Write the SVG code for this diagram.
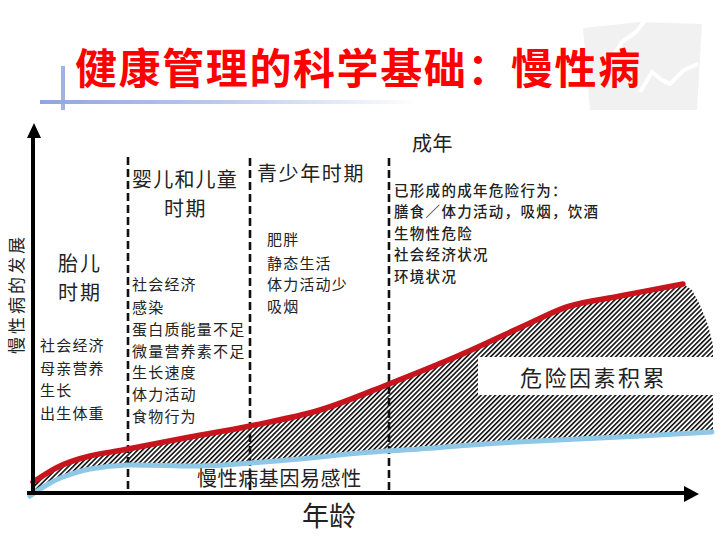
<svg xmlns="http://www.w3.org/2000/svg" width="720" height="540" viewBox="0 0 720 540">
  <defs>
    <pattern id="hatch" patternUnits="userSpaceOnUse" width="3.4" height="10" patternTransform="rotate(45)">
      <rect x="0" y="0" width="1.6" height="10" fill="#111"/>
    </pattern>
    <linearGradient id="deco" x1="40" y1="0" x2="420" y2="0" gradientUnits="userSpaceOnUse">
      <stop offset="0" stop-color="#8fa6dc"/>
      <stop offset="0.45" stop-color="#b9c8ec"/>
      <stop offset="1" stop-color="#ffffff"/>
    </linearGradient>
    <style>
      .t { font-family: "Noto Sans CJK SC", "Noto Sans", sans-serif; fill: #222; }
      .hd { font-size: 20px; }
      .ls { font-size: 15px; letter-spacing: 1.2px; }
      .al { font-size: 14.5px; letter-spacing: 1.3px; font-weight: 500; }
      .dash { stroke: #111; stroke-width: 2.6; stroke-dasharray: 8 4; fill: none; }
      .axis { stroke: #000; stroke-width: 4; fill: none; }
    </style>
  </defs>
  <rect width="720" height="540" fill="#ffffff"/>

  <g id="decoration">
    <polygon points="583,28 640,22 702,24 697,110 590,110" fill="#f1f1f1"/>
    <polyline points="650,14 636,32 622,42 612,58 606,70" fill="none" stroke="#ffffff" stroke-width="4"/>
    <polyline points="640,92 652,72 662,80 670,84 684,70 698,64" fill="none" stroke="#ffffff" stroke-width="4"/>
    <rect x="61" y="66" width="4" height="44" fill="#9fb3e3"/>
    <rect x="40" y="100" width="380" height="4" fill="url(#deco)"/>
  </g>

  <g id="title">
    <text x="75" y="84" font-family="'Noto Sans CJK SC', 'Noto Sans', sans-serif" font-size="42" font-weight="bold" letter-spacing="1.6" fill="#ff0000">健康管理的科学基础：慢性病</text>
  </g>

  <g id="hatched-area">
    <path fill="url(#hatch)" d="M33,482 C37.5,479.3 50.5,470.3 60,466 C69.5,461.7 78.7,458.8 90,456 C101.3,453.2 111.3,452.2 128,449 C144.7,445.8 169.7,440.8 190,437 C210.3,433.2 228.3,430.5 250,426 C271.7,421.5 296.8,417 320,410 C343.2,403 365.7,393.2 389,384 C412.3,374.8 436.5,365.2 460,355 C483.5,344.8 511.7,331.2 530,323 C548.3,314.8 555,310.5 570,306 C585,301.5 601.2,299.7 620,296 C638.8,292.3 672.5,286 683,284 L692,290 L700,305 L708,325 L713,345 L713,490 L33,490 Z"/>
    <path fill="#ffffff" d="M30,496 C32.5,494.3 39.5,489.2 45,486 C50.5,482.8 55.5,479.8 63,477 C70.5,474.2 79.2,471 90,469 C100.8,467 109.7,465.5 128,465 C146.3,464.5 179.7,466.3 200,466 C220.3,465.7 233.3,464.2 250,463 C266.7,461.8 281.7,460.7 300,459 C318.3,457.3 340,454.7 360,453 C380,451.3 396.7,450.7 420,449 C443.3,447.3 466.7,445 500,443 C533.3,441 584.7,438.8 620,437 C655.3,435.2 696.7,432.8 712,432 L718,432 L718,492 L30,492 Z"/>
    <rect x="478" y="357" width="242" height="38" fill="#ffffff"/>
  </g>

  <g id="connectors">
    <line class="dash" x1="128" y1="157" x2="128" y2="492"/>
    <line class="dash" x1="250" y1="158" x2="250" y2="492"/>
    <line class="dash" x1="389" y1="158" x2="389" y2="492"/>
    <path id="susceptibility-curve" fill="none" stroke="#8ec8e6" stroke-width="5" stroke-linecap="round" d="M30,496 C32.5,494.3 39.5,489.2 45,486 C50.5,482.8 55.5,479.8 63,477 C70.5,474.2 79.2,471 90,469 C100.8,467 109.7,465.5 128,465 C146.3,464.5 179.7,466.3 200,466 C220.3,465.7 233.3,464.2 250,463 C266.7,461.8 281.7,460.7 300,459 C318.3,457.3 340,454.7 360,453 C380,451.3 396.7,450.7 420,449 C443.3,447.3 466.7,445 500,443 C533.3,441 584.7,438.8 620,437 C655.3,435.2 696.7,432.8 712,432"/>
    <path id="risk-curve" fill="none" stroke="#c8141c" stroke-width="5.5" stroke-linecap="round" d="M33,482 C37.5,479.3 50.5,470.3 60,466 C69.5,461.7 78.7,458.8 90,456 C101.3,453.2 111.3,452.2 128,449 C144.7,445.8 169.7,440.8 190,437 C210.3,433.2 228.3,430.5 250,426 C271.7,421.5 296.8,417 320,410 C343.2,403 365.7,393.2 389,384 C412.3,374.8 436.5,365.2 460,355 C483.5,344.8 511.7,331.2 530,323 C548.3,314.8 555,310.5 570,306 C585,301.5 601.2,299.7 620,296 C638.8,292.3 672.5,286 683,284"/>
    <line class="axis" x1="33" y1="494" x2="33" y2="134"/>
    <polygon points="34,123 27,138 41,138" fill="#000"/>
    <line class="axis" x1="27" y1="493" x2="688" y2="493"/>
    <polygon points="699,494 684,486 684,502" fill="#000"/>
  </g>

  <g id="y-axis-label">
    <text class="t" x="0" y="0" font-size="17" letter-spacing="3" text-anchor="middle" transform="translate(23,294) rotate(-90)">慢性病的发展</text>
  </g>

  <g id="fetal">
    <text class="t hd" x="58" y="271" letter-spacing="2">胎儿</text>
    <text class="t hd" x="58" y="300" letter-spacing="2">时期</text>
    <text class="t ls" x="40" y="351">社会经济</text>
    <text class="t ls" x="40" y="374">母亲营养</text>
    <text class="t ls" x="40" y="396">生长</text>
    <text class="t ls" x="40" y="419">出生体重</text>
  </g>

  <g id="infancy">
    <text class="t hd" x="132" y="187" letter-spacing="1.2">婴儿和儿童</text>
    <text class="t hd" x="164" y="216" letter-spacing="1.5">时期</text>
    <text class="t ls" x="132" y="290">社会经济</text>
    <text class="t ls" x="132" y="313">感染</text>
    <text class="t ls" x="132" y="335">蛋白质能量不足</text>
    <text class="t ls" x="132" y="357">微量营养素不足</text>
    <text class="t ls" x="132" y="378">生长速度</text>
    <text class="t ls" x="132" y="400">体力活动</text>
    <text class="t ls" x="132" y="422">食物行为</text>
  </g>

  <g id="adolescence">
    <text class="t hd" x="257" y="181" letter-spacing="1.6">青少年时期</text>
    <text class="t ls" x="267" y="245">肥胖</text>
    <text class="t ls" x="267" y="269">静态生活</text>
    <text class="t ls" x="267" y="290">体力活动少</text>
    <text class="t ls" x="267" y="312">吸烟</text>
  </g>

  <g id="adulthood">
    <text class="t hd" x="412" y="151" letter-spacing="0.5">成年</text>
    <text class="t al" x="394" y="196">已形成的成年危险行为：</text>
    <text class="t al" x="394" y="217">膳食／体力活动，吸烟，饮酒</text>
    <text class="t al" x="394" y="239">生物性危险</text>
    <text class="t al" x="394" y="260">社会经济状况</text>
    <text class="t al" x="394" y="282">环境状况</text>
  </g>

  <g id="risk-label">
    <text class="t" x="520" y="386" font-size="22" letter-spacing="2.5">危险因素积累</text>
  </g>

  <g id="susceptibility-label">
    <text class="t" x="197" y="486" font-size="20" letter-spacing="0.6">慢性病基因易感性</text>
  </g>

  <g id="x-axis-label">
    <text class="t" x="302" y="526" font-size="27">年龄</text>
  </g>
</svg>
